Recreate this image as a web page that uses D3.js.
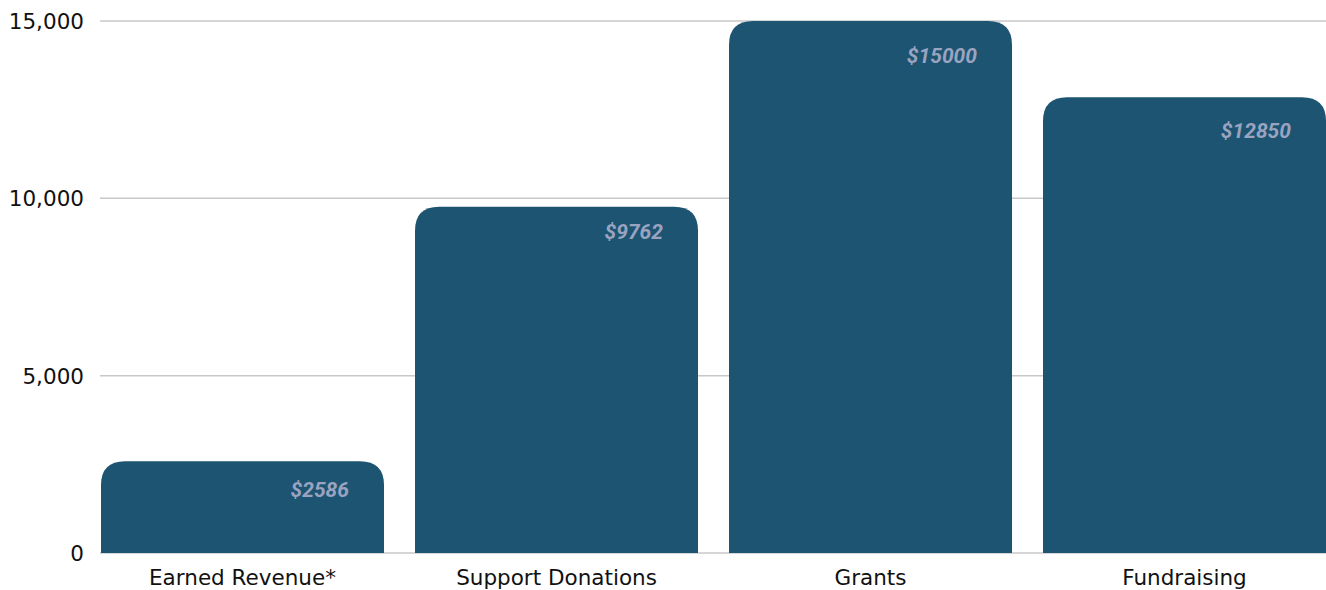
<!DOCTYPE html>
<html>
<head>
<meta charset="utf-8">
<script src="https://cdn.jsdelivr.net/npm/d3@7"></script>
<style>
  html, body { margin: 0; padding: 0; background: #ffffff; }
  svg { display: block; }
</style>
</head>
<body>
<svg id="chart" width="1326" height="590"></svg>
<script>
const categories = ["Earned Revenue*", "Support Donations", "Grants", "Fundraising"];
const values = [2586, 9762, 15000, 12850];
const valueLabels = ["$2586", "$9762", "$15000", "$12850"];
const yTicks = [0, 5000, 10000, 15000];

const W = 1326, H = 590;
const plotLeft = 101, plotRight = 1326, plotTop = 21, plotBottom = 553;

const svg = d3.select("#chart");

const x = d3.scaleBand().domain(categories).range([plotLeft, plotRight])
  .paddingInner(31 / 314).paddingOuter(0);
const y = d3.scaleLinear().domain([0, 15000]).range([plotBottom, plotTop]);

// gridlines
svg.append("g").selectAll("line").data(yTicks).join("line")
  .attr("x1", 100).attr("x2", W)
  .attr("y1", d => y(d)).attr("y2", d => y(d))
  .attr("stroke", "#c8c8c8").attr("stroke-width", 1.5);

// y axis labels
const yAxis = d3.axisLeft(y).tickValues(yTicks).tickFormat(d3.format(",")).tickSize(0).tickPadding(0);
const gy = svg.append("g").attr("transform", "translate(84,0)").call(yAxis);
gy.select(".domain").remove();
gy.selectAll("text").attr("font-family", "'DejaVu Sans', sans-serif").attr("font-size", 21.5)
  .attr("fill", "#111111").attr("dy", "0.35em");

// x axis labels
const xAxis = d3.axisBottom(x).tickSize(0).tickPadding(0);
const gx = svg.append("g").attr("transform", `translate(0,${plotBottom})`).call(xAxis);
gx.select(".domain").remove();
gx.selectAll("text").attr("font-family", "'DejaVu Sans', sans-serif").attr("font-size", 21.5)
  .attr("fill", "#111111").attr("y", 24).attr("dy", "0.35em");

// bars with rounded top corners
const r = 24;
function barPath(d, i) {
  const x0 = x(categories[i]), w = x.bandwidth();
  const y0 = y(d), yb = y(0);
  const rr = Math.min(r, (yb - y0));
  return `M${x0},${yb} L${x0},${y0 + rr} Q${x0},${y0} ${x0 + rr},${y0} L${x0 + w - rr},${y0} Q${x0 + w},${y0} ${x0 + w},${y0 + rr} L${x0 + w},${yb} Z`;
}
svg.append("g").selectAll("path").data(values).join("path")
  .attr("d", (d, i) => barPath(d, i))
  .attr("fill", "#1c5472");

// value labels (vertical inset below each bar top, as in the reference layout)
const labelInset = [35.5, 32.5, 41.5, 40.5];
svg.append("g").selectAll("text").data(values).join("text")
  .attr("x", (d, i) => x(categories[i]) + x.bandwidth() - 35)
  .attr("y", (d, i) => y(d) + labelInset[i])
  .attr("text-anchor", "end")
  .attr("font-family", "Roboto, sans-serif")
  .attr("font-weight", "bold")
  .attr("font-style", "italic")
  .attr("font-size", 21)
  .attr("fill", "#9aa3bf")
  .text((d, i) => valueLabels[i]);
</script>
</body>
</html>
